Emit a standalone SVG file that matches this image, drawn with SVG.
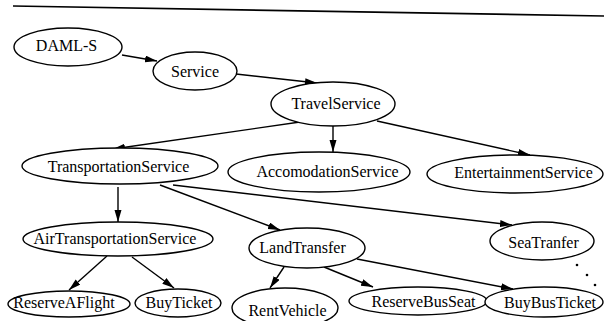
<svg xmlns="http://www.w3.org/2000/svg" width="604" height="321" viewBox="0 0 604 321">
<style>
.n ellipse{fill:#fff;stroke:#000;stroke-width:1.4}
.n text{font-size:16px;fill:#000;text-anchor:middle}
.e line{stroke:#000;stroke-width:1.4;marker-end:url(#ah)}
</style>
<defs>
<marker id="ah" markerUnits="userSpaceOnUse" markerWidth="13" markerHeight="8" refX="12" refY="3.5" orient="auto">
<path d="M0,0 L12,3.5 L0,7 z" fill="#000"/>
</marker>
</defs>
<rect width="604" height="321" fill="#fff"/>
<line x1="13" y1="6" x2="604" y2="16" stroke="#000" stroke-width="1.6"/>
<g id="connectors" class="e">
<line x1="122" y1="55" x2="157" y2="61"/>
<line x1="236" y1="74" x2="317" y2="83"/>
<line x1="300" y1="122" x2="113" y2="149"/>
<line x1="333" y1="125" x2="333" y2="152"/>
<line x1="377" y1="121" x2="530" y2="155"/>
<line x1="118" y1="187" x2="118" y2="222"/>
<line x1="160" y1="185" x2="280" y2="230"/>
<line x1="173" y1="185" x2="512" y2="225"/>
<line x1="107" y1="256" x2="69" y2="290"/>
<line x1="132" y1="257" x2="174" y2="288"/>
<line x1="284" y1="267" x2="270" y2="288"/>
<line x1="324" y1="267" x2="373" y2="287"/>
<line x1="357" y1="259" x2="513" y2="289"/>
</g>
<g fill="#000">
<circle cx="577" cy="265" r="1.3"/>
<circle cx="587" cy="275" r="1.3"/>
<circle cx="595" cy="285" r="1.3"/>
</g>
<g font-family="'Liberation Serif', 'DejaVu Serif', serif">
<g id="daml-s" class="n"><ellipse cx="68" cy="47" rx="54" ry="19"/><text x="66.5" y="51">DAML-S</text></g>
<g id="service" class="n"><ellipse cx="195" cy="71" rx="42" ry="19"/><text x="195" y="77">Service</text></g>
<g id="travelservice" class="n"><ellipse cx="333" cy="104" rx="62" ry="22"/><text x="336" y="109">TravelService</text></g>
<g id="transportationservice" class="n"><ellipse cx="120" cy="166" rx="98" ry="18"/><text x="118.5" y="172">TransportationService</text></g>
<g id="accomodationservice" class="n"><ellipse cx="319" cy="172" rx="91" ry="20"/><text x="327.5" y="177">AccomodationService</text></g>
<g id="entertainmentservice" class="n"><ellipse cx="515" cy="174" rx="88" ry="19"/><text x="523.5" y="178">EntertainmentService</text></g>
<g id="airtransportationservice" class="n"><ellipse cx="118" cy="239" rx="95" ry="17"/><text x="115" y="244">AirTransportationService</text></g>
<g id="landtransfer" class="n"><ellipse cx="307" cy="248" rx="58" ry="20"/><text x="302.5" y="253">LandTransfer</text></g>
<g id="seatranfer" class="n"><ellipse cx="542" cy="241" rx="52" ry="19"/><text x="543.5" y="248">SeaTranfer</text></g>
<g id="reserveaflight" class="n"><ellipse cx="69" cy="304" rx="61" ry="13"/><text x="64" y="308">ReserveAFlight</text></g>
<g id="buyticket" class="n"><ellipse cx="178" cy="303" rx="43" ry="14"/><text x="179" y="308">BuyTicket</text></g>
<g id="rentvehicle" class="n"><ellipse cx="285" cy="308" rx="53" ry="20"/><text x="287.5" y="316">RentVehicle</text></g>
<g id="reservebusseat" class="n"><ellipse cx="418" cy="301" rx="69" ry="14"/><text x="423.5" y="307">ReserveBusSeat</text></g>
<g id="buybusticket" class="n"><ellipse cx="544" cy="302" rx="59" ry="15"/><text x="550" y="308">BuyBusTicket</text></g>
</g>
</svg>
